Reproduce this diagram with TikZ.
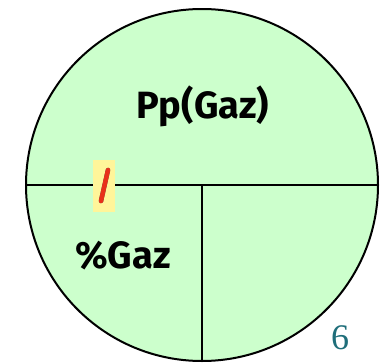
\documentclass[tikz,border=0pt]{standalone}
\usepackage{fontspec}
\setmainfont{Fira Sans}
\newfontfamily\pagenumfont{Liberation Serif}
\usepackage{tikz}
\definecolor{pale}{HTML}{CCFFCC}
\definecolor{mark}{HTML}{FFF59A}
\definecolor{slash}{HTML}{E8301A}
\definecolor{teal6}{HTML}{1F6E7A}
\tikzset{parttext/.style={font=\fontsize{38}{42}\selectfont\bfseries}}

\begin{document}
\begin{tikzpicture}[x=1pt,y=-1pt]
        \useasboundingbox (0,0) rectangle (383,364);
        \coordinate (C) at (202,185);
        \node[circle, draw, line width=2pt, fill=pale, minimum size=352pt, inner sep=0pt] (disk) at (C) {};
        \draw[line width=1.8pt] (disk.west) -- (disk.east);
        \draw[line width=1.8pt] (C) -- (disk.south);
        \node[parttext] (pp) at (203,106) {Pp(Gaz)};
        \node[parttext] (pc) at (123,256) {\%Gaz};
        \node[fill=mark, minimum width=22pt, minimum height=52pt, inner sep=0pt] (box) at (104,186) {};
        \coordinate (s1) at (108,170);
        \coordinate (s2) at (101,201);
        \draw[black!70, line width=4.5pt, line cap=round, shift={(1pt,-1pt)}] (s1) -- (s2);
        \draw[slash, line width=4.5pt, line cap=round] (s1) -- (s2);
        \node[teal6, font=\pagenumfont\fontsize{36}{40}\selectfont] (num) at (340,338) {6};
    \end{tikzpicture}
\end{document}
